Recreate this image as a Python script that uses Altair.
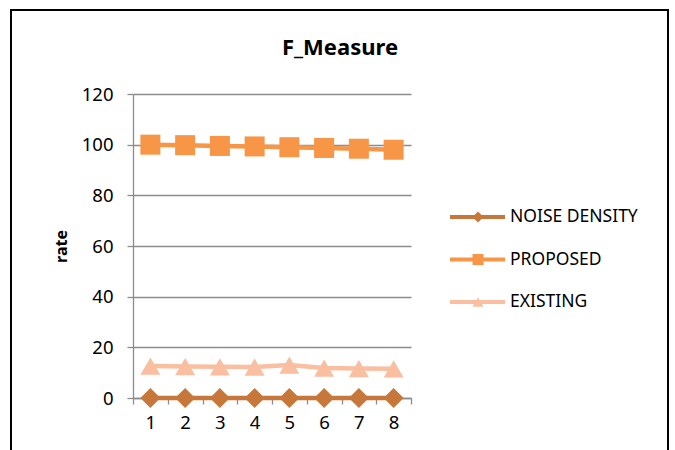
import altair as alt
import pandas as pd

categories = [1, 2, 3, 4, 5, 6, 7, 8]
noise_density = [0, 0, 0, 0, 0, 0, 0, 0]
proposed = [100.0, 99.8, 99.5, 99.3, 99.0, 98.7, 98.4, 98.0]
existing = [12.6, 12.4, 12.3, 12.2, 13.0, 11.8, 11.6, 11.5]
series_names = ["NOISE DENSITY", "PROPOSED", "EXISTING"]
series_colors = ["#C8773A", "#F79646", "#F9BFA0"]
series_shapes = ["diamond", "square", "triangle-up"]
y_ticks = [0, 20, 40, 60, 80, 100, 120]
chart_title = "F_Measure"

FONT = "Noto Sans"
GRID = "#8C8C8C"

rows = []
for name, vals in zip(series_names, [noise_density, proposed, existing]):
    for c, v in zip(categories, vals):
        rows.append({"cat": c, "value": v, "series": name})
df = pd.DataFrame(rows)

leg_df = pd.DataFrame({"series": series_names, "idx": list(range(len(series_names)))})

color = alt.Color("series:N", scale=alt.Scale(domain=series_names, range=series_colors), legend=None)
shape = alt.Shape("series:N", scale=alt.Scale(domain=series_names, range=series_shapes), legend=None)

x_enc = alt.X(
    "cat:O",
    bandPosition=0.5,
    scale=alt.Scale(type="band", paddingInner=0, paddingOuter=0),
    axis=alt.Axis(
        title=None, labelAngle=0, tickBand="extent", tickSize=6, tickColor=GRID,
        domainColor=GRID, domainWidth=1.3, tickWidth=1.3, labelFontSize=18.5, labelFont=FONT,
        labelColor="black", labelPadding=9, grid=False,
    ),
)
y_enc = alt.Y(
    "value:Q", scale=alt.Scale(domain=[0, 120], nice=False),
    axis=alt.Axis(
        values=y_ticks, title="rate", titleFont=FONT, titleFontSize=16, titleFontWeight="bold",
        titleColor="black", titleX=-72, titleY=152, titleAngle=-90, titleAlign="center",
        titleBaseline="middle", labelFontSize=18.5, labelFont=FONT, labelColor="black",
        labelPadding=14, tickSize=6, tickColor=GRID, tickWidth=1.3, domainColor=GRID,
        domainWidth=1.3, gridColor=GRID, gridWidth=1.3,
    ),
)

base = alt.Chart(df)
lines = base.mark_line(strokeWidth=4.5).encode(x=x_enc, y=y_enc, color=color, detail="series:N")
points = base.mark_point(filled=True, size=400, opacity=1).encode(
    x=x_enc, y=y_enc, color=color, shape=shape
)
main = alt.layer(lines, points)

leg_y = alt.Y("idx:Q", scale=alt.Scale(domain=[0, 2], range=[123, 208]), axis=None)
leg_base = alt.Chart(leg_df)
leg_line = leg_base.mark_rule(strokeWidth=4).encode(
    x=alt.value(317), x2=alt.value(372), y=leg_y, color=color
)
leg_pt = leg_base.mark_point(filled=True, size=120, opacity=1).encode(
    x=alt.value(345), y=leg_y, color=color, shape=shape
)
leg_txt = leg_base.mark_text(align="left", baseline="middle", fontSize=17.5, font=FONT, color="black").encode(
    x=alt.value(377), y=leg_y, text="series:N"
)

deco = alt.Chart(pd.DataFrame({"t": [chart_title]}))
border = deco.mark_rect(fillOpacity=0, stroke="black", strokeWidth=2).encode(
    x=alt.value(-122), x2=alt.value(535), y=alt.value(-84), y2=alt.value(400)
)
title = deco.mark_text(font=FONT, fontSize=22, fontWeight="bold", color="black",
                       align="center", baseline="alphabetic").encode(
    x=alt.value(207), y=alt.value(-39), text="t:N"
)

chart = alt.layer(border, title, main, leg_line, leg_pt, leg_txt).resolve_scale(y="independent").properties(
    width=278,
    height=304,
    background="white",
    autosize=alt.AutoSizeParams(type="none"),
    padding={"left": 133, "top": 94, "right": 264, "bottom": 52},
).configure_view(stroke=None)

chart.save("out.html", embed_options={"renderer": "svg", "actions": False})
